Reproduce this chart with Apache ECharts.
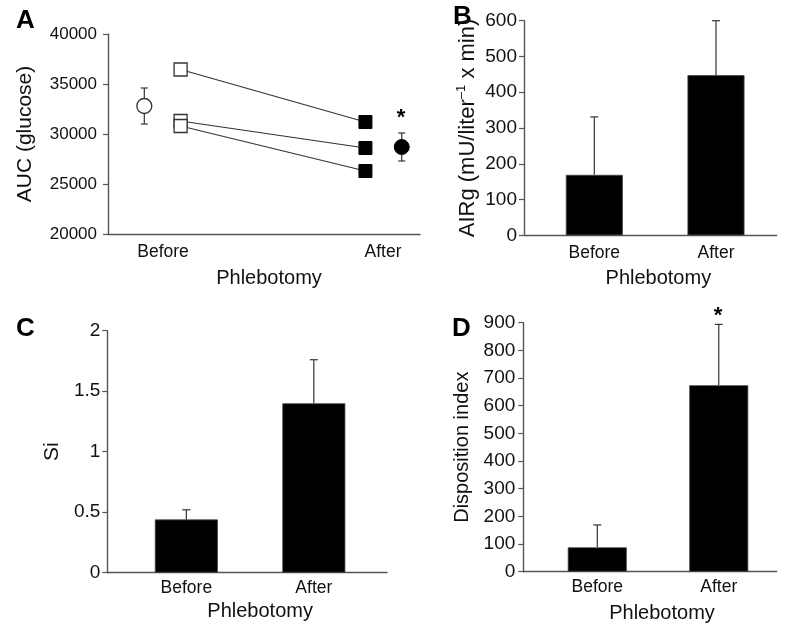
<!DOCTYPE html>
<html>
<head>
<meta charset="utf-8">
<script src="https://cdn.jsdelivr.net/npm/echarts@6/dist/echarts.min.js"></script>
<style>
html,body{margin:0;padding:0;background:#fff;}
#chart{width:788px;height:635px;}
</style>
</head>
<body>
<div id="chart"></div>
<script>
// ---- data ----
const categories = ['Before', 'After'];
// Panel A: AUC (glucose)
const aucSubjectsBefore = [36450, 31300, 30800];
const aucSubjectsAfter = [31200, 28600, 26300];
const aucMean = [32800, 28700];
const aucErr = [1800, 1400];
const aucTicks = [20000, 25000, 30000, 35000, 40000];
// Panel B: AIRg
const airgMean = [169, 448];
const airgErr = [162, 152];
// Panel C: Si
const siMean = [0.44, 1.40];
const siErr = [0.08, 0.36];
// Panel D: Disposition index
const diMean = [88, 674];
const diErr = [81, 220];

// ---- styles/layout ----
const FONT = 'Liberation Sans, Arial, Helvetica, sans-serif';
const AXIS_COLOR = '#555';
const TXT = '#111';
const subjectShift = 0.08;
const meanShift = 0.085;

function catX(i) { return i; }

function errRender(capBoth, capW) {
  return function (params, api) {
    const x = api.value(0);
    const lo = api.value(1);
    const hi = api.value(2);
    const pLo = api.coord([x, lo]);
    const pHi = api.coord([x, hi]);
    const st = { stroke: '#333', lineWidth: 1.2 };
    const children = [
      { type: 'line', shape: { x1: pLo[0], y1: pLo[1], x2: pHi[0], y2: pHi[1] }, style: st },
      { type: 'line', shape: { x1: pHi[0] - capW / 2, y1: pHi[1], x2: pHi[0] + capW / 2, y2: pHi[1] }, style: st }
    ];
    if (capBoth) {
      children.push({ type: 'line', shape: { x1: pLo[0] - capW / 2, y1: pLo[1], x2: pLo[0] + capW / 2, y2: pLo[1] }, style: st });
    }
    return { type: 'group', children: children };
  };
}

function xAxisCfg(gridIndex, min, max, labelMargin, nameGap, nameShift) {
  return {
    gridIndex: gridIndex, type: 'value', min: min, max: max,
    axisLine: { show: true, onZero: false, lineStyle: { color: AXIS_COLOR, width: 1.4 } },
    axisTick: { show: false },
    splitLine: { show: false },
    axisLabel: {
      customValues: [0, 1],
      formatter: function (v) { return categories[Math.round(v)]; },
      fontFamily: FONT, fontSize: 17.5, color: TXT, margin: labelMargin
    },
    name: 'Phlebotomy', nameLocation: 'middle', nameGap: nameGap,
    nameTextStyle: { fontFamily: FONT, fontSize: 20, color: TXT, padding: [0, 0, 0, nameShift * 2] }
  };
}

function yAxisCfg(gridIndex, min, max, interval, name, nameGap, labelMargin, labelSize, nameSize, rich) {
  const cfg = {
    gridIndex: gridIndex, type: 'value', min: min, max: max, interval: interval,
    axisLine: { show: true, onZero: false, lineStyle: { color: AXIS_COLOR, width: 1.4 } },
    axisTick: { show: true, inside: false, length: 5, lineStyle: { color: AXIS_COLOR, width: 1.2 } },
    splitLine: { show: false },
    axisLabel: {
      fontFamily: FONT, fontSize: labelSize, color: TXT, margin: labelMargin,
      formatter: function (v) { return String(v); }
    },
    name: name, nameLocation: 'middle', nameGap: nameGap, nameRotate: 90,
    nameTextStyle: { fontFamily: FONT, fontSize: nameSize, color: TXT }
  };
  if (rich) cfg.nameTextStyle.rich = rich;
  return cfg;
}

function barSeries(idx, means, width) {
  return {
    type: 'bar', xAxisIndex: idx, yAxisIndex: idx,
    data: means.map((v, i) => [catX(i), v]),
    barWidth: width,
    itemStyle: { color: '#000', borderColor: '#444', borderWidth: 0.8 },
    z: 2
  };
}
function barErrSeries(idx, means, errs) {
  return {
    type: 'custom', xAxisIndex: idx, yAxisIndex: idx,
    renderItem: errRender(false, 8),
    data: means.map((v, i) => [catX(i), v, v + errs[i]]),
    z: 1
  };
}

const series = [];
// Panel A: paired subject lines
aucSubjectsBefore.forEach((b, k) => {
  series.push({
    type: 'line', xAxisIndex: 0, yAxisIndex: 0,
    data: [
      { value: [catX(0) + subjectShift, b], itemStyle: { color: '#fff', borderColor: '#333', borderWidth: 1.3 } },
      { value: [catX(1) - subjectShift, aucSubjectsAfter[k]], itemStyle: { color: '#000', borderColor: '#000', borderWidth: 1 } }
    ],
    symbol: 'rect', symbolSize: 13, showSymbol: true,
    lineStyle: { color: '#333', width: 1.1 },
    z: 3
  });
});
// Panel A mean error bars and circles
series.push({
  type: 'custom', xAxisIndex: 0, yAxisIndex: 0,
  renderItem: errRender(true, 7),
  data: aucMean.map((v, i) => [catX(i) + (i === 0 ? -meanShift : meanShift), v - aucErr[i], v + aucErr[i]]),
  z: 2
});
series.push({
  type: 'scatter', xAxisIndex: 0, yAxisIndex: 0,
  symbol: 'circle', symbolSize: 15,
  data: aucMean.map((v, i) => ({
    value: [catX(i) + (i === 0 ? -meanShift : meanShift), v],
    itemStyle: i === 0 ? { color: '#fff', borderColor: '#333', borderWidth: 1.3, opacity: 1 } : { color: '#000', borderColor: '#000', opacity: 1 }
  })),
  z: 4
});
// Panels B, C, D
series.push(barSeries(1, airgMean, 57), barErrSeries(1, airgMean, airgErr));
series.push(barSeries(2, siMean, 63), barErrSeries(2, siMean, siErr));
series.push(barSeries(3, diMean, 59), barErrSeries(3, diMean, diErr));

const option = {
  animation: false,
  backgroundColor: '#fff',
  grid: [
    { left: 108, top: 34, width: 312, height: 200 },
    { left: 524, top: 20.7, width: 252.7, height: 214.6 },
    { left: 107.3, top: 330.7, width: 279.7, height: 242 },
    { left: 523.3, top: 322.7, width: 253.4, height: 249 }
  ],
  xAxis: [
    xAxisCfg(0, -0.25, 1.168, 9, 34, 5),
    xAxisCfg(1, -0.578, 1.499, 9, 33, 8),
    xAxisCfg(2, -0.62, 1.574, 6, 29, 13),
    xAxisCfg(3, -0.609, 1.477, 6, 32, 12)
  ],
  yAxis: [
    yAxisCfg(0, aucTicks[0], aucTicks[aucTicks.length - 1], 5000, 'AUC (glucose)', 72, 11, 17, 21),
    yAxisCfg(1, 0, 600, 100, '{t|AIRg (mU/liter}{s|–1}{t| x min)}', 44, 7, 19, 22,
      { t: { fontFamily: FONT, fontSize: 22, color: TXT, lineHeight: 25 },
        s: { fontFamily: FONT, fontSize: 13, color: TXT, lineHeight: 13, verticalAlign: 'top' } }),
    yAxisCfg(2, 0, 2, 0.5, 'Si', 45, 7, 19, 21),
    yAxisCfg(3, 0, 900, 100, 'Disposition index', 51, 8, 19, 20)
  ],
  graphic: [
    { type: 'text', left: 16, top: 8, style: { text: 'A', font: 'bold 26px ' + FONT, fill: '#000' } },
    { type: 'text', left: 453, top: 4, style: { text: 'B', font: 'bold 26px ' + FONT, fill: '#000' } },
    { type: 'text', left: 16, top: 316, style: { text: 'C', font: 'bold 26px ' + FONT, fill: '#000' } },
    { type: 'text', left: 452, top: 316, style: { text: 'D', font: 'bold 26px ' + FONT, fill: '#000' } },
    { type: 'text', x: 401, y: 118, style: { text: '*', font: 'bold 22px ' + FONT, fill: '#000', align: 'center', verticalAlign: 'middle' } },
    { type: 'text', x: 718, y: 316, style: { text: '*', font: 'bold 22px ' + FONT, fill: '#000', align: 'center', verticalAlign: 'middle' } }
  ],
  series: series
};

const chart = echarts.init(document.getElementById('chart'), null, { renderer: 'canvas' });
chart.setOption(option);
</script>
</body>
</html>
